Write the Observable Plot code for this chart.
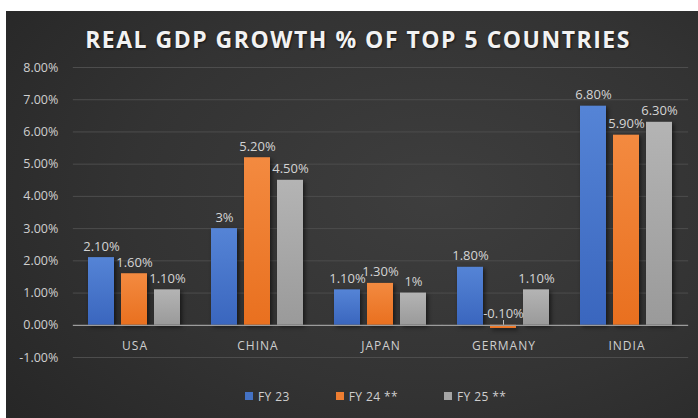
<!DOCTYPE html>
<html>
<head>
<meta charset="utf-8">
<script src="https://cdn.jsdelivr.net/npm/d3@7"></script>
<script src="https://cdn.jsdelivr.net/npm/@observablehq/plot@0.6"></script>
<style>
  html, body { margin: 0; padding: 0; background: #ffffff; width: 698px; height: 418px; overflow: hidden; }
  #card {
    position: absolute; left: 6px; top: 11px; width: 692px; height: 407px;
    background: radial-gradient(ellipse 80% 90% at 62% 45%, #3e3e3e 0%, #333333 55%, #262626 100%);
    font-family: "Open Sans", sans-serif; color: #d0d0d0;
  }
  #title {
    height: 44px; line-height: 44px; padding-top: 6px; padding-left: 12px; box-sizing: border-box;
    text-align: center; font-weight: 700; font-size: 23px; letter-spacing: 1.5px;
    color: #f2f2f2; text-shadow: 1px 1px 2px rgba(0,0,0,0.6);
  }
  #chart svg { display: block; }
  #legend { display: flex; gap: 46px; padding-left: 239px; height: 22px; align-items: center; font-size: 12px; color: #cfcfcf; letter-spacing: 0.4px; }
  #legend .item { display: flex; align-items: center; gap: 5px; }
  #legend .sw { width: 8px; height: 8px; }
  .bars rect { filter: drop-shadow(2px 2px 2px rgba(0,0,0,0.55)); }
  #chart .cats text { letter-spacing: 1px; }
</style>
</head>
<body>
<div id="card">
  <div id="title"></div>
  <div id="chart"></div>
  <div id="legend"></div>
</div>
<script>
const titleText = "REAL GDP GROWTH % OF TOP 5 COUNTRIES";
const categories = ["USA", "CHINA", "JAPAN", "GERMANY", "INDIA"];
const seriesNames = ["FY 23", "FY 24 **", "FY 25 **"];
const fy23 = [2.1, 3.0, 1.1, 1.8, 6.8];
const fy24 = [1.6, 5.2, 1.3, -0.1, 5.9];
const fy25 = [1.1, 4.5, 1.0, 1.1, 6.3];
const fy23Labels = ["2.10%", "3%", "1.10%", "1.80%", "6.80%"];
const fy24Labels = ["1.60%", "5.20%", "1.30%", "-0.10%", "5.90%"];
const fy25Labels = ["1.10%", "4.50%", "1%", "1.10%", "6.30%"];
const yTicks = [-1, 0, 1, 2, 3, 4, 5, 6, 7, 8];
const colors = ["#4472C4", "#ED7D31", "#A5A5A5"];

const seriesValues = [fy23, fy24, fy25];
const seriesLabels = [fy23Labels, fy24Labels, fy25Labels];
const data = [];
categories.forEach((c, i) => {
  seriesNames.forEach((s, j) => {
    data.push({country: c, series: s, value: seriesValues[j][i], label: seriesLabels[j][i]});
  });
});

document.getElementById("title").textContent = titleText;

const W = 692, ML = 66, MR = 10;
const fxPadInner = 0.23, fxPadOuter = 0.115;
const step = (W - ML - MR) / (categories.length - fxPadInner + 2 * fxPadOuter);
const bridge = -step * fxPadInner / 2; // extend grid lines across facet gaps

const gradIds = ["gBlue", "gOrange", "gGray"];
const gradStops = [["#5584d6", "#3a66be"], ["#f38a40", "#e9701f"], ["#b4b4b4", "#9a9a9a"]];

const gridRows = [];
categories.forEach(c => yTicks.forEach(t => gridRows.push({country: c, t})));

const chart = Plot.plot({
  width: W,
  height: 330,
  marginLeft: ML,
  marginRight: MR,
  marginTop: 12,
  marginBottom: 28,
  style: {background: "transparent", color: "#cfcfcf", fontFamily: "Open Sans, sans-serif"},
  fx: {domain: categories, paddingInner: fxPadInner, paddingOuter: fxPadOuter, axis: null, label: null},
  x: {domain: seriesNames, paddingInner: 0.2, paddingOuter: 0, axis: null},
  y: {domain: [-1, 8], axis: null},
  color: {domain: seriesNames, range: gradIds.map(id => `url(#${id})`)},
  marks: [
    Plot.ruleY(gridRows.filter(d => d.t !== 0), {fx: "country", y: "t", stroke: "#4d4d4d", strokeWidth: 1, insetLeft: bridge, insetRight: bridge}),
    Plot.text(yTicks.map(t => ({country: categories[0], t})), {
      fx: "country", y: "t", text: d => d.t.toFixed(2) + "%", frameAnchor: "left",
      textAnchor: "end", dx: -(step * fxPadOuter) - 15, fontSize: 12.5, fill: "#cfcfcf", className: "yticks"
    }),
    Plot.barY(data, {fx: "country", x: "series", y: "value", fill: "series", className: "bars"}),
    Plot.ruleY(gridRows.filter(d => d.t === 0), {fx: "country", y: "t", stroke: "#9c9c9c", strokeWidth: 1.2, insetLeft: bridge, insetRight: bridge}),
    Plot.ruleX(data.filter(d => d.value < 0), {fx: "country", x: "series", y1: "value", y2: 0, insetTop: -8, stroke: "#bdbdbd", strokeWidth: 1}),
    Plot.text(data, {
      fx: "country", x: "series", y: d => Math.max(0, d.value), text: "label",
      lineAnchor: "bottom", dy: -7, fontSize: 13, fill: "#d4d4d4", className: "vals"
    }),
    Plot.text(categories, {fx: d => d, y: 0, text: d => d, dy: 21, fontSize: 12, fill: "#cfcfcf", className: "cats"})
  ]
});

// gradient definitions for bar shading
const svg = d3.select(chart);
const defs = svg.insert("defs", ":first-child");
gradIds.forEach((id, k) => {
  const g = defs.append("linearGradient").attr("id", id).attr("x1", 0).attr("y1", 0).attr("x2", 0).attr("y2", 1);
  g.append("stop").attr("offset", "0%").attr("stop-color", gradStops[k][0]);
  g.append("stop").attr("offset", "100%").attr("stop-color", gradStops[k][1]);
});

document.getElementById("chart").appendChild(chart);

const legend = d3.select("#legend");
seriesNames.forEach((s, j) => {
  const item = legend.append("div").attr("class", "item");
  item.append("div").attr("class", "sw").style("background", colors[j]);
  item.append("span").text(s);
});
</script>
</body>
</html>
